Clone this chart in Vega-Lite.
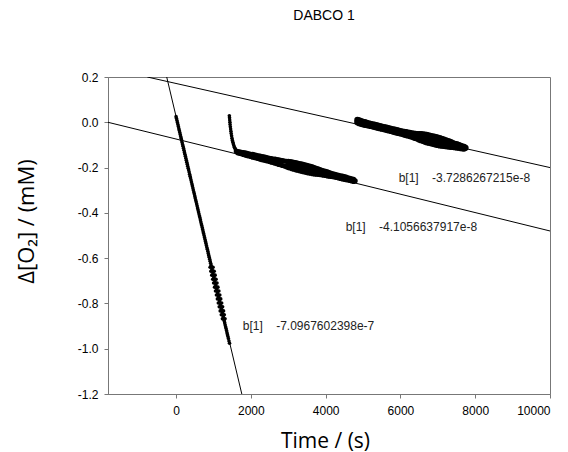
{
"$schema": "https://vega.github.io/schema/vega-lite/v6.json",
"width": 442, "height": 317,
"autosize": {"type": "none"},
"padding": {"left": 108, "top": 77, "right": 18, "bottom": 58},
"background": "white",
"title": {"text": "DABCO 1", "font": "Liberation Sans", "fontSize": 14, "fontWeight": "normal", "color": "#000", "offset": 48, "dx": -5},
"config": {
 "view": {"stroke": "#777", "strokeWidth": 1},
 "axis": {"grid": false, "domainColor": "#777", "tickColor": "#777", "tickSize": 4, "labelFont": "Liberation Sans", "labelFontSize": 12, "labelColor": "#000", "titleFont": "Open Sans", "titleFontWeight": "normal", "titleColor": "#000"}
},
"datasets": {
 "fits": [
  {"fit": "A", "t": -250, "v": 0.2}, {"fit": "A", "t": 1758, "v": -1.2},
  {"fit": "B", "t": -1820, "v": 0.0}, {"fit": "B", "t": 10000, "v": -0.48},
  {"fit": "C", "t": -769, "v": 0.2}, {"fit": "C", "t": 10000, "v": -0.2}
 ],
 "labels": [
  {"t": 1785, "v": -0.9, "label": "b[1]\u00a0\u00a0\u00a0\u00a0-7.0967602398e-7"},
  {"t": 4535, "v": -0.461, "label": "b[1]\u00a0\u00a0\u00a0\u00a0-4.1056637917e-8"},
  {"t": 5952, "v": -0.247, "label": "b[1]\u00a0\u00a0\u00a0\u00a0-3.7286267215e-8"}
 ],
 "pts": [
  {"s":"A","t":0,"v":0.025},{"s":"A","t":25,"v":0.008},{"s":"A","t":50,"v":-0.010},{"s":"A","t":75,"v":-0.028},
  {"s":"A","t":100,"v":-0.045},{"s":"A","t":125,"v":-0.063},{"s":"A","t":150,"v":-0.080},{"s":"A","t":175,"v":-0.098},
  {"s":"A","t":200,"v":-0.115},{"s":"A","t":225,"v":-0.133},{"s":"A","t":250,"v":-0.150},{"s":"A","t":275,"v":-0.168},
  {"s":"A","t":300,"v":-0.185},{"s":"A","t":325,"v":-0.203},{"s":"A","t":350,"v":-0.220},{"s":"A","t":375,"v":-0.238},
  {"s":"A","t":400,"v":-0.255},{"s":"A","t":425,"v":-0.273},{"s":"A","t":450,"v":-0.290},{"s":"A","t":475,"v":-0.308},
  {"s":"A","t":500,"v":-0.325},{"s":"A","t":525,"v":-0.343},{"s":"A","t":550,"v":-0.360},{"s":"A","t":575,"v":-0.378},
  {"s":"A","t":600,"v":-0.395},{"s":"A","t":625,"v":-0.413},{"s":"A","t":650,"v":-0.430},{"s":"A","t":675,"v":-0.448},
  {"s":"A","t":700,"v":-0.465},{"s":"A","t":725,"v":-0.483},{"s":"A","t":750,"v":-0.500},{"s":"A","t":775,"v":-0.518},
  {"s":"A","t":800,"v":-0.535},{"s":"A","t":825,"v":-0.553},{"s":"A","t":850,"v":-0.570},{"s":"A","t":875,"v":-0.588},
  {"s":"A","t":900,"v":-0.605},{"s":"A","t":925,"v":-0.623},{"s":"A","t":950,"v":-0.640},{"s":"A","t":975,"v":-0.658},
  {"s":"A","t":1000,"v":-0.675},{"s":"A","t":1025,"v":-0.693},{"s":"A","t":1050,"v":-0.710},{"s":"A","t":1075,"v":-0.728},
  {"s":"A","t":1100,"v":-0.745},{"s":"A","t":1125,"v":-0.763},{"s":"A","t":1150,"v":-0.780},{"s":"A","t":1175,"v":-0.798},
  {"s":"A","t":1200,"v":-0.815},{"s":"A","t":1225,"v":-0.833},{"s":"A","t":1250,"v":-0.850},{"s":"A","t":1275,"v":-0.868},
  {"s":"A","t":1300,"v":-0.885},{"s":"A","t":1325,"v":-0.903},{"s":"A","t":1350,"v":-0.920},{"s":"A","t":1375,"v":-0.938},
  {"s":"A","t":1400,"v":-0.955},{"s":"A","t":1430,"v":-0.976},
  {"s":"A","t":12,"v":0.017},{"s":"A","t":37,"v":-0.001},{"s":"A","t":62,"v":-0.019},{"s":"A","t":87,"v":-0.036},
  {"s":"A","t":112,"v":-0.054},{"s":"A","t":137,"v":-0.071},{"s":"A","t":162,"v":-0.089},{"s":"A","t":187,"v":-0.106},
  {"s":"A","t":212,"v":-0.124},{"s":"A","t":237,"v":-0.141},{"s":"A","t":262,"v":-0.159},{"s":"A","t":287,"v":-0.176},
  {"s":"A","t":312,"v":-0.194},{"s":"A","t":337,"v":-0.211},{"s":"A","t":362,"v":-0.229},{"s":"A","t":387,"v":-0.246},
  {"s":"A","t":412,"v":-0.264},{"s":"A","t":437,"v":-0.281},{"s":"A","t":462,"v":-0.299},{"s":"A","t":487,"v":-0.316},
  {"s":"A","t":512,"v":-0.334},{"s":"A","t":537,"v":-0.351},{"s":"A","t":562,"v":-0.369},{"s":"A","t":587,"v":-0.386},
  {"s":"A","t":612,"v":-0.404},{"s":"A","t":637,"v":-0.421},{"s":"A","t":662,"v":-0.439},{"s":"A","t":687,"v":-0.456},
  {"s":"A","t":712,"v":-0.474},{"s":"A","t":737,"v":-0.491},{"s":"A","t":762,"v":-0.509},{"s":"A","t":787,"v":-0.526},
  {"s":"A","t":812,"v":-0.544},{"s":"A","t":837,"v":-0.561},{"s":"A","t":862,"v":-0.579},{"s":"A","t":887,"v":-0.596},
  {"s":"A","t":912,"v":-0.614},{"s":"A","t":937,"v":-0.631},{"s":"A","t":962,"v":-0.649},{"s":"A","t":987,"v":-0.666},
  {"s":"A","t":1012,"v":-0.684},{"s":"A","t":1037,"v":-0.701},{"s":"A","t":1062,"v":-0.719},{"s":"A","t":1087,"v":-0.736},
  {"s":"A","t":1112,"v":-0.754},{"s":"A","t":1137,"v":-0.771},{"s":"A","t":1162,"v":-0.789},{"s":"A","t":1187,"v":-0.806},
  {"s":"A","t":1212,"v":-0.824},{"s":"A","t":1237,"v":-0.841},{"s":"A","t":1262,"v":-0.859},{"s":"A","t":1287,"v":-0.876},
  {"s":"A","t":1312,"v":-0.894},{"s":"A","t":1337,"v":-0.911},{"s":"A","t":1362,"v":-0.929},{"s":"A","t":1387,"v":-0.946},
  {"s":"A","t":1415,"v":-0.966},
  {"s":"A","t":910,"v":-0.640},{"s":"A","t":990,"v":-0.640},{"s":"A","t":930,"v":-0.658},{"s":"A","t":1020,"v":-0.658},
  {"s":"A","t":955,"v":-0.675},{"s":"A","t":1045,"v":-0.675},{"s":"A","t":980,"v":-0.693},{"s":"A","t":1070,"v":-0.693},
  {"s":"A","t":1005,"v":-0.710},{"s":"A","t":1095,"v":-0.710},{"s":"A","t":1030,"v":-0.728},{"s":"A","t":1120,"v":-0.728},
  {"s":"A","t":1055,"v":-0.745},{"s":"A","t":1145,"v":-0.745},{"s":"A","t":1080,"v":-0.763},{"s":"A","t":1170,"v":-0.763},
  {"s":"A","t":1105,"v":-0.780},{"s":"A","t":1195,"v":-0.780},{"s":"A","t":1130,"v":-0.798},{"s":"A","t":1220,"v":-0.798},
  {"s":"A","t":1155,"v":-0.815},{"s":"A","t":1245,"v":-0.815},{"s":"A","t":1180,"v":-0.833},{"s":"A","t":1270,"v":-0.833},
  {"s":"A","t":1210,"v":-0.850},{"s":"A","t":1290,"v":-0.850},{"s":"A","t":1240,"v":-0.868},{"s":"A","t":1310,"v":-0.868},

  {"s":"A","t":1425,"v":0.029},{"s":"A","t":1430,"v":0.020},{"s":"A","t":1435,"v":0.010},{"s":"A","t":1440,"v":0.000},
  {"s":"A","t":1445,"v":-0.010},{"s":"A","t":1452,"v":-0.020},{"s":"A","t":1460,"v":-0.030},{"s":"A","t":1467,"v":-0.040},
  {"s":"A","t":1475,"v":-0.050},{"s":"A","t":1485,"v":-0.060},{"s":"A","t":1495,"v":-0.070},{"s":"A","t":1507,"v":-0.080},
  {"s":"A","t":1520,"v":-0.088},{"s":"A","t":1532,"v":-0.096},{"s":"A","t":1545,"v":-0.103},{"s":"A","t":1560,"v":-0.110},
  {"s":"A","t":1575,"v":-0.115},{"s":"A","t":1592,"v":-0.120},{"s":"B","t":1610,"v":-0.127},

  {"s":"B","t":1650,"v":-0.129},{"s":"B","t":1650,"v":-0.135},
  {"s":"B","t":1700,"v":-0.131},{"s":"B","t":1700,"v":-0.137},
  {"s":"B","t":1750,"v":-0.133},{"s":"B","t":1750,"v":-0.139},
  {"s":"B","t":1800,"v":-0.134},{"s":"B","t":1800,"v":-0.142},
  {"s":"B","t":1850,"v":-0.135},{"s":"B","t":1850,"v":-0.145},
  {"s":"B","t":1900,"v":-0.137},{"s":"B","t":1900,"v":-0.147},
  {"s":"B","t":1950,"v":-0.139},{"s":"B","t":1950,"v":-0.149},
  {"s":"B","t":2000,"v":-0.141},{"s":"B","t":2000,"v":-0.151},
  {"s":"B","t":2050,"v":-0.142},{"s":"B","t":2050,"v":-0.154},
  {"s":"B","t":2100,"v":-0.144},{"s":"B","t":2100,"v":-0.156},
  {"s":"B","t":2150,"v":-0.146},{"s":"B","t":2150,"v":-0.158},
  {"s":"B","t":2200,"v":-0.148},{"s":"B","t":2200,"v":-0.160},
  {"s":"B","t":2250,"v":-0.149},{"s":"B","t":2250,"v":-0.163},
  {"s":"B","t":2300,"v":-0.151},{"s":"B","t":2300,"v":-0.165},
  {"s":"B","t":2350,"v":-0.153},{"s":"B","t":2350,"v":-0.167},
  {"s":"B","t":2400,"v":-0.155},{"s":"B","t":2400,"v":-0.169},
  {"s":"B","t":2450,"v":-0.157},{"s":"B","t":2450,"v":-0.171},
  {"s":"B","t":2500,"v":-0.159},{"s":"B","t":2500,"v":-0.173},
  {"s":"B","t":2550,"v":-0.160},{"s":"B","t":2550,"v":-0.176},
  {"s":"B","t":2600,"v":-0.162},{"s":"B","t":2600,"v":-0.178},
  {"s":"B","t":2650,"v":-0.163},{"s":"B","t":2650,"v":-0.181},
  {"s":"B","t":2700,"v":-0.165},{"s":"B","t":2700,"v":-0.183},
  {"s":"B","t":2750,"v":-0.166},{"s":"B","t":2750,"v":-0.186},
  {"s":"B","t":2800,"v":-0.168},{"s":"B","t":2800,"v":-0.188},
  {"s":"B","t":2850,"v":-0.169},{"s":"B","t":2850,"v":-0.191},
  {"s":"B","t":2900,"v":-0.171},{"s":"B","t":2900,"v":-0.193},
  {"s":"B","t":2950,"v":-0.172},{"s":"B","t":2950,"v":-0.196},
  {"s":"B","t":3000,"v":-0.172},{"s":"B","t":3000,"v":-0.186},{"s":"B","t":3000,"v":-0.200},
  {"s":"B","t":3050,"v":-0.174},{"s":"B","t":3050,"v":-0.188},{"s":"B","t":3050,"v":-0.202},
  {"s":"B","t":3100,"v":-0.175},{"s":"B","t":3100,"v":-0.190},{"s":"B","t":3100,"v":-0.205},
  {"s":"B","t":3150,"v":-0.177},{"s":"B","t":3150,"v":-0.192},{"s":"B","t":3150,"v":-0.207},
  {"s":"B","t":3200,"v":-0.178},{"s":"B","t":3200,"v":-0.194},{"s":"B","t":3200,"v":-0.210},
  {"s":"B","t":3250,"v":-0.180},{"s":"B","t":3250,"v":-0.196},{"s":"B","t":3250,"v":-0.212},
  {"s":"B","t":3300,"v":-0.182},{"s":"B","t":3300,"v":-0.198},{"s":"B","t":3300,"v":-0.214},
  {"s":"B","t":3350,"v":-0.184},{"s":"B","t":3350,"v":-0.200},{"s":"B","t":3350,"v":-0.216},
  {"s":"B","t":3400,"v":-0.186},{"s":"B","t":3400,"v":-0.202},{"s":"B","t":3400,"v":-0.218},
  {"s":"B","t":3450,"v":-0.188},{"s":"B","t":3450,"v":-0.204},{"s":"B","t":3450,"v":-0.220},
  {"s":"B","t":3500,"v":-0.190},{"s":"B","t":3500,"v":-0.206},{"s":"B","t":3500,"v":-0.222},
  {"s":"B","t":3550,"v":-0.192},{"s":"B","t":3550,"v":-0.208},{"s":"B","t":3550,"v":-0.224},
  {"s":"B","t":3600,"v":-0.195},{"s":"B","t":3600,"v":-0.210},{"s":"B","t":3600,"v":-0.225},
  {"s":"B","t":3650,"v":-0.197},{"s":"B","t":3650,"v":-0.212},{"s":"B","t":3650,"v":-0.227},
  {"s":"B","t":3700,"v":-0.200},{"s":"B","t":3700,"v":-0.214},{"s":"B","t":3700,"v":-0.228},
  {"s":"B","t":3750,"v":-0.203},{"s":"B","t":3750,"v":-0.216},{"s":"B","t":3750,"v":-0.229},
  {"s":"B","t":3800,"v":-0.206},{"s":"B","t":3800,"v":-0.218},{"s":"B","t":3800,"v":-0.230},
  {"s":"B","t":3850,"v":-0.209},{"s":"B","t":3850,"v":-0.220},{"s":"B","t":3850,"v":-0.231},
  {"s":"B","t":3900,"v":-0.212},{"s":"B","t":3900,"v":-0.222},{"s":"B","t":3900,"v":-0.232},
  {"s":"B","t":3950,"v":-0.214},{"s":"B","t":3950,"v":-0.224},{"s":"B","t":3950,"v":-0.234},
  {"s":"B","t":4000,"v":-0.217},{"s":"B","t":4000,"v":-0.226},{"s":"B","t":4000,"v":-0.235},
  {"s":"B","t":4050,"v":-0.219},{"s":"B","t":4050,"v":-0.228},{"s":"B","t":4050,"v":-0.237},
  {"s":"B","t":4100,"v":-0.222},{"s":"B","t":4100,"v":-0.230},{"s":"B","t":4100,"v":-0.238},
  {"s":"B","t":4150,"v":-0.225},{"s":"B","t":4150,"v":-0.232},{"s":"B","t":4150,"v":-0.239},
  {"s":"B","t":4200,"v":-0.228},{"s":"B","t":4200,"v":-0.240},
  {"s":"B","t":4250,"v":-0.230},{"s":"B","t":4250,"v":-0.242},
  {"s":"B","t":4300,"v":-0.232},{"s":"B","t":4300,"v":-0.244},
  {"s":"B","t":4350,"v":-0.234},{"s":"B","t":4350,"v":-0.246},
  {"s":"B","t":4400,"v":-0.236},{"s":"B","t":4400,"v":-0.248},
  {"s":"B","t":4450,"v":-0.238},{"s":"B","t":4450,"v":-0.250},
  {"s":"B","t":4500,"v":-0.240},{"s":"B","t":4500,"v":-0.252},
  {"s":"B","t":4550,"v":-0.242},{"s":"B","t":4550,"v":-0.254},
  {"s":"B","t":4600,"v":-0.245},{"s":"B","t":4600,"v":-0.255},
  {"s":"B","t":4650,"v":-0.247},{"s":"B","t":4650,"v":-0.257},
  {"s":"B","t":4700,"v":-0.250},{"s":"B","t":4700,"v":-0.259},
  {"s":"B","t":4750,"v":-0.252},{"s":"B","t":4750,"v":-0.261},
  {"s":"B","t":4790,"v":-0.258},

  {"s":"C","t":4850,"v":0.010},{"s":"C","t":4850,"v":0.000},
  {"s":"C","t":4900,"v":0.008},{"s":"C","t":4900,"v":-0.004},
  {"s":"C","t":4950,"v":0.005},{"s":"C","t":4950,"v":-0.007},
  {"s":"C","t":5000,"v":0.002},{"s":"C","t":5000,"v":-0.009},
  {"s":"C","t":5050,"v":0.000},{"s":"C","t":5050,"v":-0.011},
  {"s":"C","t":5100,"v":-0.003},{"s":"C","t":5100,"v":-0.012},
  {"s":"C","t":5150,"v":-0.005},{"s":"C","t":5150,"v":-0.014},
  {"s":"C","t":5200,"v":-0.007},{"s":"C","t":5200,"v":-0.016},
  {"s":"C","t":5250,"v":-0.009},{"s":"C","t":5250,"v":-0.018},
  {"s":"C","t":5300,"v":-0.011},{"s":"C","t":5300,"v":-0.020},
  {"s":"C","t":5350,"v":-0.013},{"s":"C","t":5350,"v":-0.022},
  {"s":"C","t":5400,"v":-0.015},{"s":"C","t":5400,"v":-0.024},
  {"s":"C","t":5450,"v":-0.017},{"s":"C","t":5450,"v":-0.026},
  {"s":"C","t":5500,"v":-0.019},{"s":"C","t":5500,"v":-0.028},
  {"s":"C","t":5550,"v":-0.021},{"s":"C","t":5550,"v":-0.030},
  {"s":"C","t":5600,"v":-0.023},{"s":"C","t":5600,"v":-0.032},
  {"s":"C","t":5650,"v":-0.025},{"s":"C","t":5650,"v":-0.034},
  {"s":"C","t":5700,"v":-0.027},{"s":"C","t":5700,"v":-0.036},
  {"s":"C","t":5750,"v":-0.029},{"s":"C","t":5750,"v":-0.038},
  {"s":"C","t":5800,"v":-0.031},{"s":"C","t":5800,"v":-0.041},
  {"s":"C","t":5850,"v":-0.033},{"s":"C","t":5850,"v":-0.043},
  {"s":"C","t":5900,"v":-0.035},{"s":"C","t":5900,"v":-0.045},
  {"s":"C","t":5950,"v":-0.037},{"s":"C","t":5950,"v":-0.047},
  {"s":"C","t":6000,"v":-0.039},{"s":"C","t":6000,"v":-0.049},
  {"s":"C","t":6050,"v":-0.041},{"s":"C","t":6050,"v":-0.051},
  {"s":"C","t":6100,"v":-0.042},{"s":"C","t":6100,"v":-0.054},
  {"s":"C","t":6150,"v":-0.044},{"s":"C","t":6150,"v":-0.056},
  {"s":"C","t":6200,"v":-0.046},{"s":"C","t":6200,"v":-0.058},
  {"s":"C","t":6250,"v":-0.047},{"s":"C","t":6250,"v":-0.061},
  {"s":"C","t":6300,"v":-0.049},{"s":"C","t":6300,"v":-0.063},
  {"s":"C","t":6350,"v":-0.050},{"s":"C","t":6350,"v":-0.066},
  {"s":"C","t":6400,"v":-0.051},{"s":"C","t":6400,"v":-0.069},
  {"s":"C","t":6450,"v":-0.052},{"s":"C","t":6450,"v":-0.072},
  {"s":"C","t":6500,"v":-0.052},{"s":"C","t":6500,"v":-0.064},{"s":"C","t":6500,"v":-0.076},
  {"s":"C","t":6550,"v":-0.053},{"s":"C","t":6550,"v":-0.066},{"s":"C","t":6550,"v":-0.079},
  {"s":"C","t":6600,"v":-0.054},{"s":"C","t":6600,"v":-0.068},{"s":"C","t":6600,"v":-0.082},
  {"s":"C","t":6650,"v":-0.055},{"s":"C","t":6650,"v":-0.070},{"s":"C","t":6650,"v":-0.085},
  {"s":"C","t":6700,"v":-0.056},{"s":"C","t":6700,"v":-0.072},{"s":"C","t":6700,"v":-0.088},
  {"s":"C","t":6750,"v":-0.058},{"s":"C","t":6750,"v":-0.074},{"s":"C","t":6750,"v":-0.090},
  {"s":"C","t":6800,"v":-0.060},{"s":"C","t":6800,"v":-0.076},{"s":"C","t":6800,"v":-0.092},
  {"s":"C","t":6850,"v":-0.062},{"s":"C","t":6850,"v":-0.078},{"s":"C","t":6850,"v":-0.094},
  {"s":"C","t":6900,"v":-0.064},{"s":"C","t":6900,"v":-0.080},{"s":"C","t":6900,"v":-0.096},
  {"s":"C","t":6950,"v":-0.066},{"s":"C","t":6950,"v":-0.082},{"s":"C","t":6950,"v":-0.098},
  {"s":"C","t":7000,"v":-0.068},{"s":"C","t":7000,"v":-0.084},{"s":"C","t":7000,"v":-0.100},
  {"s":"C","t":7050,"v":-0.070},{"s":"C","t":7050,"v":-0.086},{"s":"C","t":7050,"v":-0.102},
  {"s":"C","t":7100,"v":-0.073},{"s":"C","t":7100,"v":-0.088},{"s":"C","t":7100,"v":-0.103},
  {"s":"C","t":7150,"v":-0.076},{"s":"C","t":7150,"v":-0.090},{"s":"C","t":7150,"v":-0.104},
  {"s":"C","t":7200,"v":-0.079},{"s":"C","t":7200,"v":-0.092},{"s":"C","t":7200,"v":-0.105},
  {"s":"C","t":7250,"v":-0.082},{"s":"C","t":7250,"v":-0.094},{"s":"C","t":7250,"v":-0.106},
  {"s":"C","t":7300,"v":-0.085},{"s":"C","t":7300,"v":-0.096},{"s":"C","t":7300,"v":-0.107},
  {"s":"C","t":7350,"v":-0.088},{"s":"C","t":7350,"v":-0.098},{"s":"C","t":7350,"v":-0.108},
  {"s":"C","t":7400,"v":-0.092},{"s":"C","t":7400,"v":-0.108},
  {"s":"C","t":7450,"v":-0.095},{"s":"C","t":7450,"v":-0.110},
  {"s":"C","t":7500,"v":-0.097},{"s":"C","t":7500,"v":-0.111},
  {"s":"C","t":7550,"v":-0.100},{"s":"C","t":7550,"v":-0.112},
  {"s":"C","t":7600,"v":-0.103},{"s":"C","t":7600,"v":-0.114},
  {"s":"C","t":7650,"v":-0.106},{"s":"C","t":7650,"v":-0.115},
  {"s":"C","t":7700,"v":-0.109},{"s":"C","t":7700,"v":-0.116},
  {"s":"C","t":7740,"v":-0.113}
 ]
},
"layer": [
 {
  "data": {"name": "fits"},
  "mark": {"type": "line", "color": "#000", "strokeWidth": 1, "clip": true},
  "encoding": {
   "x": {"field": "t", "type": "quantitative", "scale": {"domain": [-1820, 10000], "nice": false, "zero": false},
    "axis": {"title": "Time / (s)", "values": [0, 2000, 4000, 6000, 8000, 10000], "format": "d", "labelPadding": 7, "titleFontSize": 21, "titleX": 217, "titleY": 53, "titleAlign": "center", "titleBaseline": "alphabetic"}},
   "y": {"field": "v", "type": "quantitative", "scale": {"domain": [-1.2, 0.2], "nice": false, "zero": false},
    "axis": {"title": "Δ[O₂] / (mM)", "values": [-1.2, -1.0, -0.8, -0.6, -0.4, -0.2, 0.0, 0.2], "labelExpr": "replace(format(datum.value, '.1f'), '\u2212', '-')", "labelPadding": 6, "titleFontSize": 22, "titleX": -82, "titleY": 144, "titleAngle": -90, "titleAlign": "center", "titleBaseline": "middle"}},
   "detail": {"field": "fit"}
  }
 },
 {
  "data": {"name": "pts"},
  "mark": {"type": "circle", "color": "#000", "opacity": 1, "clip": true},
  "encoding": {
   "x": {"field": "t", "type": "quantitative"},
   "y": {"field": "v", "type": "quantitative"},
   "size": {"field": "s", "type": "nominal", "scale": {"domain": ["A", "B", "C"], "range": [13, 40, 40]}, "legend": null}
  }
 },
 {
  "data": {"name": "labels"},
  "mark": {"type": "text", "align": "left", "baseline": "middle", "font": "Liberation Sans", "fontSize": 12, "color": "#222"},
  "encoding": {
   "x": {"field": "t", "type": "quantitative"},
   "y": {"field": "v", "type": "quantitative"},
   "text": {"field": "label"}
  }
 }
]
}
